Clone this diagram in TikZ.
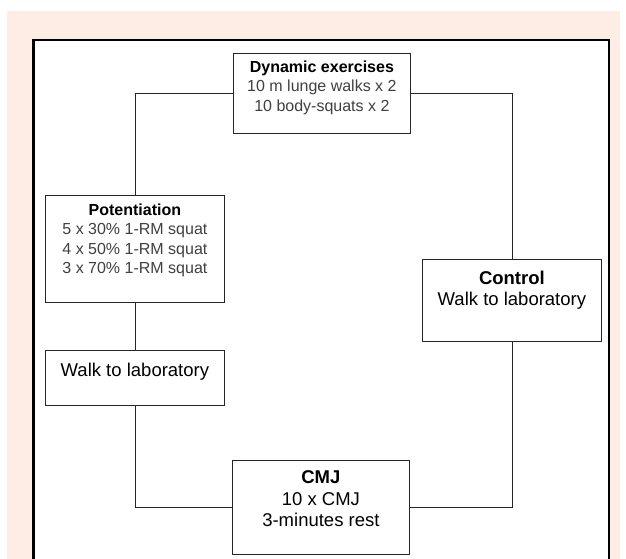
\documentclass[tikz,border=0pt]{standalone}
\usepackage{fontspec}
\setmainfont{Liberation Sans}
\usetikzlibrary{positioning}
\definecolor{peach}{RGB}{253,237,228}

\begin{document}
\begin{tikzpicture}[
    x=1pt,y=-1pt,
    stagebox/.style={rectangle,draw=black!85,line width=0.8pt,fill=white,inner sep=0pt,anchor=north west},
    smalltext/.style={inner sep=0pt,align=center,text=black!75,font=\fontsize{16}{19.5}\selectfont},
    largetext/.style={inner sep=0pt,align=center,font=\fontsize{18.5}{21.5}\selectfont},
    link/.style={draw=black!85,line width=0.8pt}
    ]

    \useasboundingbox (0,0) rectangle (626,558);
    \clip (0,0) rectangle (626,558);
    \fill[peach] (7,11) rectangle (620,570);
    \draw[line width=2.5pt,fill=white] (33.5,40) rectangle (609,580);

    \node (dyn) [stagebox,minimum width=177pt,minimum height=80pt] at (233,53) {};
    \node (pot) [stagebox,minimum width=179pt,minimum height=107pt] at (45,195) {};
    \node (walk) [stagebox,minimum width=179pt,minimum height=55pt] at (45,350) {};
    \node (ctrl) [stagebox,minimum width=179pt,minimum height=82pt] at (422,259) {};
    \node (cmj) [stagebox,minimum width=177pt,minimum height=94pt] at (232,460) {};

    \node (dyntext) [smalltext,below=7.5pt of dyn.north] {
      \textcolor{black}{\textbf{Dynamic exercises}}\\
      10 m lunge walks x 2\\
      10 body-squats x 2
    };
    \node (pottext) [smalltext,below=8.5pt of pot.north] {
      \textcolor{black}{\textbf{Potentiation}}\\
      5 x 30\% 1-RM squat\\
      4 x 50\% 1-RM squat\\
      3 x 70\% 1-RM squat
    };
    \node (walktext) [largetext,below=12.7pt of walk.north] {Walk to laboratory};
    \node (ctrltext) [largetext,below=11.7pt of ctrl.north] {
      \textbf{Control}\\
      Walk to laboratory
    };
    \node (cmjtext) [largetext,below=10.7pt of cmj.north] {
      \textbf{CMJ}\\
      10 x CMJ\\
      3-minutes rest
    };

    \draw[link] (dyn.west) -| (pot.north);
    \draw[link] (pot.south) -- (walk.north);
    \draw[link] (walk.south) |- (cmj.west);
    \draw[link] (dyn.east) -| (ctrl.north);
    \draw[link] (ctrl.south) |- (cmj.east);

  \end{tikzpicture}
\end{document}
